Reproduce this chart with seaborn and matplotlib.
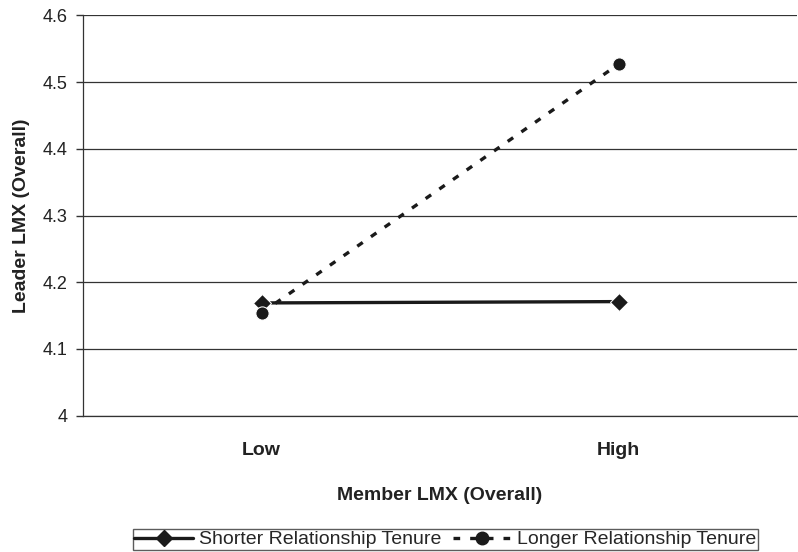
import matplotlib
matplotlib.use("Agg")
import matplotlib.pyplot as plt
import seaborn as sns
import pandas as pd

# data
levels = ["Low", "High"]
shorter = [4.169, 4.171]
longer = [4.154, 4.527]
series_names = ["Shorter Relationship Tenure", "Longer Relationship Tenure"]
y_ticks = [4.0, 4.1, 4.2, 4.3, 4.4, 4.5, 4.6]
y_tick_labels = ["4", "4.1", "4.2", "4.3", "4.4", "4.5", "4.6"]

df = pd.DataFrame({
    "member": levels * 2,
    "leader": shorter + longer,
    "tenure": [series_names[0]] * 2 + [series_names[1]] * 2,
})
df["x"] = df["member"].map({lvl: i for i, lvl in enumerate(levels)})

sns.set_style("white")
plt.rcParams["font.family"] = ["Liberation Sans", "DejaVu Sans"]

fig = plt.figure(figsize=(7.98, 5.52), dpi=100)
ax = fig.add_axes([0.104, 0.247, 0.895, 0.725])

sns.lineplot(data=df, x="x", y="leader", hue="tenure", style="tenure",
             palette=["#1a1a1a", "#1a1a1a"],
             dashes={series_names[0]: "", series_names[1]: (2, 3)},
             markers={series_names[0]: "D", series_names[1]: "o"},
             markersize=9.5, linewidth=2.4, ax=ax, legend=False)

ax.set_xlim(-0.5, 1.5)
ax.set_ylim(4.0, 4.6)
ax.set_yticks(y_ticks)
ax.set_yticklabels(y_tick_labels, fontsize=13, color="#222222")
ax.set_xticks(range(len(levels)))
ax.set_xticklabels(levels, fontsize=14, fontweight="bold", color="#222222")
ax.tick_params(axis="x", length=0, pad=19)
ax.tick_params(axis="y", length=5, width=1, direction="out", left=True,
               color="#333333", pad=6)
ax.yaxis.grid(True, color="#333333", linewidth=0.9)
for side in ["top", "right"]:
    ax.spines[side].set_visible(False)
for side in ["left", "bottom"]:
    ax.spines[side].set_color("#333333")
    ax.spines[side].set_linewidth(0.9)

ax.set_xlabel("Member LMX (Overall)", fontsize=14, fontweight="bold",
              color="#222222", labelpad=20)
ax.set_ylabel("Leader LMX (Overall)", fontsize=14, fontweight="bold",
              color="#222222", labelpad=9)

handles = [
    plt.Line2D([], [], color="#1a1a1a", lw=2.4, marker="D", markersize=8),
    plt.Line2D([], [], color="#1a1a1a", lw=2.4, ls=(0, (2, 3)), marker="o", markersize=9),
]
fig.legend(handles, series_names, loc="lower center", bbox_to_anchor=(0.558, 0.003),
           ncol=2, frameon=True, fancybox=False, edgecolor="#333333",
           fontsize=14, handlelength=3.0, columnspacing=0.6, borderpad=0.1,
           handletextpad=0.3, borderaxespad=0.0)

fig.savefig("out.png", dpi=100)
